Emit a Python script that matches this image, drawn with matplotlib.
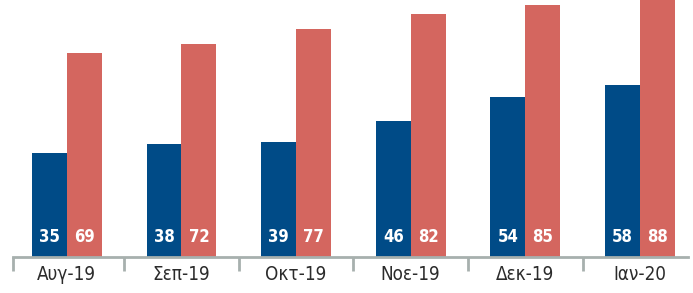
import numpy as np
import matplotlib.pyplot as plt

months = ['Αυγ-19', 'Σεπ-19', 'Οκτ-19', 'Νοε-19', 'Δεκ-19', 'Ιαν-20']
blue_vals = [35, 38, 39, 46, 54, 58]
red_vals = [69, 72, 77, 82, 85, 88]

blue = '#004b87'
red = '#d4665f'
axis_grey = '#a7b0ae'

plt.rcParams['font.family'] = ['DejaVu Sans']
plt.rcParams['font.stretch'] = 'condensed'

fig = plt.figure(figsize=(6.93, 2.93), dpi=100)
ax = fig.add_axes([13 / 693, 36 / 293, 675 / 693, 257 / 293])

x = np.arange(len(months))
w = 0.305
b1 = ax.bar(x - w / 2, blue_vals, w, color=blue)
b2 = ax.bar(x + w / 2, red_vals, w, color=red)

# value labels near the bottom of each bar
for bars, vals in ((b1, blue_vals), (b2, red_vals)):
    for rect, v in zip(bars, vals):
        ax.text(rect.get_x() + rect.get_width() / 2, 6.8, str(v),
                ha='center', va='center', color='white',
                fontsize=12, fontweight='bold', fontstretch='condensed')

ax.set_xlim(-0.47, 5.42)
ax.set_ylim(0, 86.8)

for s in ('top', 'right', 'left'):
    ax.spines[s].set_visible(False)
ax.spines['bottom'].set_color(axis_grey)
ax.spines['bottom'].set_linewidth(2)
ax.set_yticks([])

ax.set_xticks(x)
ax.set_xticklabels(months, fontsize=13.5, color='#2b2b2b', fontstretch='condensed')
ax.tick_params(axis='x', which='major', length=0, pad=6)
ax.set_xticks([-0.47] + list(np.arange(0.5, 5, 1.0)), minor=True)
ax.tick_params(axis='x', which='minor', length=10, width=2, color=axis_grey)

fig.savefig('out.png', dpi=100)
